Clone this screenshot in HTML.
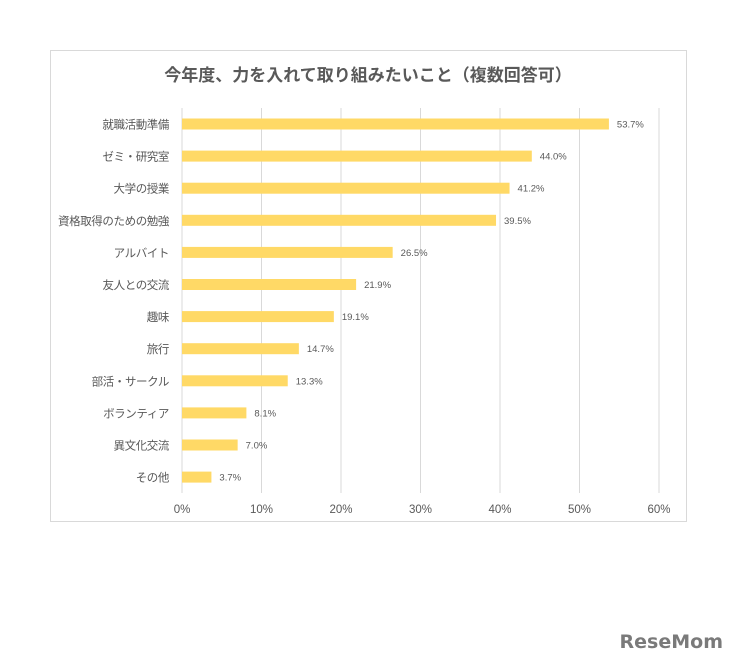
<!DOCTYPE html>
<html><head><meta charset="utf-8"><style>
body{margin:0;background:#fff;width:737px;height:663px;overflow:hidden;font-family:"Liberation Sans","Noto Sans CJK JP",sans-serif}
</style></head><body>
<svg width="737" height="663" style="position:absolute;left:0;top:0">
<rect x="50.5" y="50.5" width="636" height="471" fill="#fff" stroke="#d9d9d9"/>
<text x="368" y="81" text-anchor="middle" font-size="17" font-weight="bold" fill="#595959" font-family="Liberation Sans,Noto Sans CJK JP,sans-serif">今年度、力を入れて取り組みたいこと（複数回答可）</text>
<g id="grid"></g><g id="bars"></g><g id="labels"></g>
<text x="723" y="648" text-anchor="end" font-size="19" font-weight="bold" fill="#7a7a7a" font-family="DejaVu Sans,sans-serif">ReseMom</text>
</svg>
<script>
const categories=["就職活動準備","ゼミ・研究室","大学の授業","資格取得のための勉強","アルバイト","友人との交流","趣味","旅行","部活・サークル","ボランティア","異文化交流","その他"];
const values=[53.7,44.0,41.2,39.5,26.5,21.9,19.1,14.7,13.3,8.1,7.0,3.7];
const ticks=[0,10,20,30,40,50,60];
const NS="http://www.w3.org/2000/svg";
const x0=182,x1=659,xmax=60,plotTop=108,rowH=32.1,firstY=124,barH=11;
const xs=v=>x0+(x1-x0)*v/xmax;
function mk(t,a,p){const e=document.createElementNS(NS,t);for(const k in a)e.setAttribute(k,a[k]);document.getElementById(p).appendChild(e);return e;}
ticks.forEach(t=>{
 const l=mk('line',{x1:xs(t),x2:xs(t),y1:plotTop,y2:493,stroke:'#d9d9d9','stroke-width':1},'grid');
 
 
 const tx=mk('text',{x:xs(t),y:513,'text-anchor':'middle','font-size':11.5,fill:'#595959'},'labels');
 tx.textContent=t+'%';
 
 
});
categories.forEach((c,i)=>{
 const y=firstY+i*rowH;
 const r=mk('rect',{x:x0,y:y-barH/2,width:xs(values[i])-x0,height:barH,fill:'#FFD966'},'bars');
 
 
 const cl=mk('text',{x:169,y:y+4.5,'text-anchor':'end','font-size':11.5,'letter-spacing':'-0.4',fill:'#595959'},'labels');
 cl.textContent=c;
 
 
 const vl=mk('text',{x:xs(values[i])+8,y:y+3.5,'font-size':9.5,fill:'#595959'},'labels');
 vl.textContent=values[i].toFixed(1)+'%';
 
 
});
</script>
</body></html>
